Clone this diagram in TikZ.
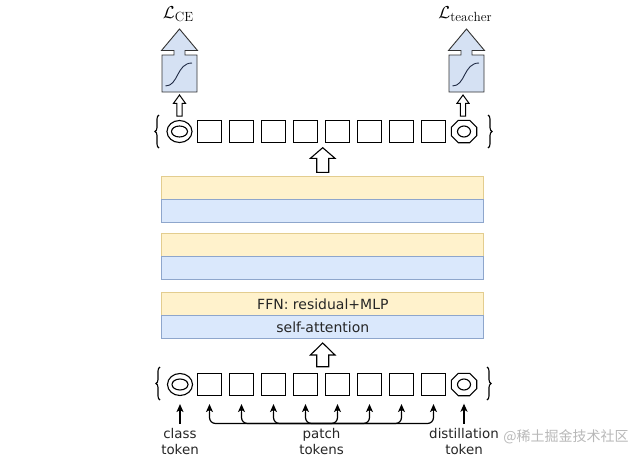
\documentclass[tikz,border=0pt]{standalone}
\usepackage{fontspec}
\setsansfont{DejaVu Sans}
\newfontfamily\cjkfont{Noto Sans CJK SC}
\usetikzlibrary{arrows.meta,shapes.geometric,decorations.pathreplacing,calc}
\definecolor{yelF}{HTML}{FFF2CC}
\definecolor{yelD}{HTML}{E3CD8F}
\definecolor{bluF}{HTML}{DAE8FC}
\definecolor{bluD}{HTML}{8EA6CC}
\definecolor{lossF}{HTML}{D5E1F3}
\definecolor{sigC}{HTML}{1F2A44}
\begin{document}
\begin{tikzpicture}[x=1pt,y=-1pt,
  layer/.style={draw, line width=0.9pt, minimum width=322pt, minimum height=23pt, inner sep=0pt, font=\sffamily\fontsize{14}{16}\selectfont, text=black!85},
  tok/.style={draw, line width=1.1pt, minimum width=24pt, minimum height=22pt, inner sep=0pt},
  hollow/.style={draw, line width=1.1pt, fill=white, line join=miter},
  arr/.style={-{Stealth[length=8pt,width=7pt,inset=2pt]}, line width=1.2pt},
  lbl/.style={font=\sffamily\fontsize{13.4}{15.5}\selectfont, align=center, text=black!85},
  brc/.style={decorate, decoration={brace, amplitude=4pt}, line width=1.1pt},
  lossbox/.style={draw=black!80, line width=0.9pt, fill=lossF, line join=miter}
]
\useasboundingbox (0,0) rectangle (640,458);

% ---------- transformer layers ----------
\node[layer, fill=yelF, draw=yelD] (f1) at (322.85,188) {};
\node[layer, fill=bluF, draw=bluD] (a1) at (322.85,211) {};
\node[layer, fill=yelF, draw=yelD] (f2) at (322.85,245) {};
\node[layer, fill=bluF, draw=bluD] (a2) at (322.85,268) {};
\node[layer, fill=yelF, draw=yelD] (f3) at (322.85,304) {FFN: residual+MLP};
\node[layer, fill=bluF, draw=bluD] (a3) at (322.85,327) {self-attention};

% ---------- bottom token row ----------
\foreach \i in {0,...,7} \node[tok] (b\i) at ({209.5+32*\i},384.5) {};
\node[ellipse, draw, line width=1.1pt, minimum width=25pt, minimum height=22pt, inner sep=0pt] (bcls) at (180,384.5) {};
\node[ellipse, draw, line width=1.1pt, minimum width=16pt, minimum height=11pt, inner sep=0pt] (bclsi) at (180,384.5) {};
\node[minimum width=25pt, minimum height=22pt, inner sep=0pt] (bdist) at (464,384.5) {};
\draw[line width=1.1pt] ([xshift=7pt]bdist.north west) -- ([xshift=-7pt]bdist.north east) -- ([yshift=-7pt]bdist.north east) -- ([yshift=7pt]bdist.south east) -- ([xshift=-7pt]bdist.south east) -- ([xshift=7pt]bdist.south west) -- ([yshift=7pt]bdist.south west) -- ([yshift=-7pt]bdist.north west) -- cycle;
\node[ellipse, draw, line width=1.1pt, minimum width=13pt, minimum height=11pt, inner sep=0pt] (bdisti) at (464,384.5) {};
\draw[brc] (160,400) -- (160,367);
\draw[brc] (487,367) -- (487,400);

% ---------- top token row ----------
\foreach \i in {0,...,7} \node[tok] (t\i) at ({209.5+32*\i},131.5) {};
\node[ellipse, draw, line width=1.1pt, minimum width=25pt, minimum height=22pt, inner sep=0pt] (tcls) at (179.5,131.5) {};
\node[ellipse, draw, line width=1.1pt, minimum width=16pt, minimum height=11pt, inner sep=0pt] (tclsi) at (179.5,131.5) {};
\node[minimum width=25pt, minimum height=22pt, inner sep=0pt] (tdist) at (464,131.5) {};
\draw[line width=1.1pt] ([xshift=7pt]tdist.north west) -- ([xshift=-7pt]tdist.north east) -- ([yshift=-7pt]tdist.north east) -- ([yshift=7pt]tdist.south east) -- ([xshift=-7pt]tdist.south east) -- ([xshift=7pt]tdist.south west) -- ([yshift=7pt]tdist.south west) -- ([yshift=-7pt]tdist.north west) -- cycle;
\node[ellipse, draw, line width=1.1pt, minimum width=13pt, minimum height=11pt, inner sep=0pt] (tdisti) at (464,131.5) {};
\draw[brc] (159,148) -- (159,115);
\draw[brc] (488,115) -- (488,148);

% ---------- hollow block arrows ----------
\draw[hollow] (322.7,343) -- (335,355) -- (328.7,355) -- (328.7,366.7) -- (316.7,366.7) -- (316.7,355) -- (310.4,355) -- cycle;
\draw[hollow] (322.7,147.7) -- (335,158.3) -- (328.7,158.3) -- (328.7,172.3) -- (316.7,172.3) -- (316.7,158.3) -- (310.4,158.3) -- cycle;
\foreach \cx in {179.5,463} {
  \draw[hollow, line width=1pt] (\cx,95) -- (\cx+6,103.3) -- (\cx+2.6,103.3) -- (\cx+2.6,116) -- (\cx-2.6,116) -- (\cx-2.6,103.3) -- (\cx-6,103.3) -- cycle;
}

% ---------- loss heads ----------
\foreach \cx in {179.5,466.5} {
  \draw[lossbox] (\cx,29) -- (\cx+18,50.5) -- (\cx+5.5,50.5) -- (\cx+5.5,55) -- (\cx+17.5,55) -- (\cx+17.5,92) -- (\cx-17.5,92) -- (\cx-17.5,55) -- (\cx-5.5,55) -- (\cx-5.5,50.5) -- (\cx-18,50.5) -- cycle;
  \draw[sigC, line width=0.9pt] (\cx-14,86) .. controls (\cx-1,86) and (\cx-3,63) .. (\cx+12.5,63);
}
\node[font=\fontsize{19}{22}\selectfont] (lce) at (178.3,14.5) {$\mathcal{L}_{\mathrm{CE}}$};
\node[font=\fontsize{19}{22}\selectfont] (lteach) at (465.3,14.5) {$\mathcal{L}_{\mathrm{teacher}}$};

% ---------- input arrows ----------
\coordinate (bus) at (321.5,423.5);
\foreach \i in {0,...,7} {
  \coordinate (p\i) at ([yshift=-8pt]b\i.south);
  \coordinate (q\i) at ([yshift=-16pt]b\i.south);
  \draw[line width=1.2pt, rounded corners=6pt] (bus) -| (q\i);
  \draw[arr] ([yshift=0.5pt]q\i) -- (p\i);
}
\coordinate (clsin) at (180,423.5);
\coordinate (distin) at (464,423.5);
\draw[arr] (clsin) -- ([yshift=-8pt]bcls.south);
\draw[arr] (distin) -- ([yshift=-8pt]bdist.south);

\node[lbl] (lcls) at (180,441.5) {class\\token};
\node[lbl] (lpatch) at (321.5,441.5) {patch\\tokens};
\node[lbl] (ldist) at (464,441.5) {distillation\\token};

\node[font=\cjkfont\fontsize{14}{16}\selectfont, text=black!28] (wm) at (566,437) {@稀土掘金技术社区};
\end{tikzpicture}
\end{document}
